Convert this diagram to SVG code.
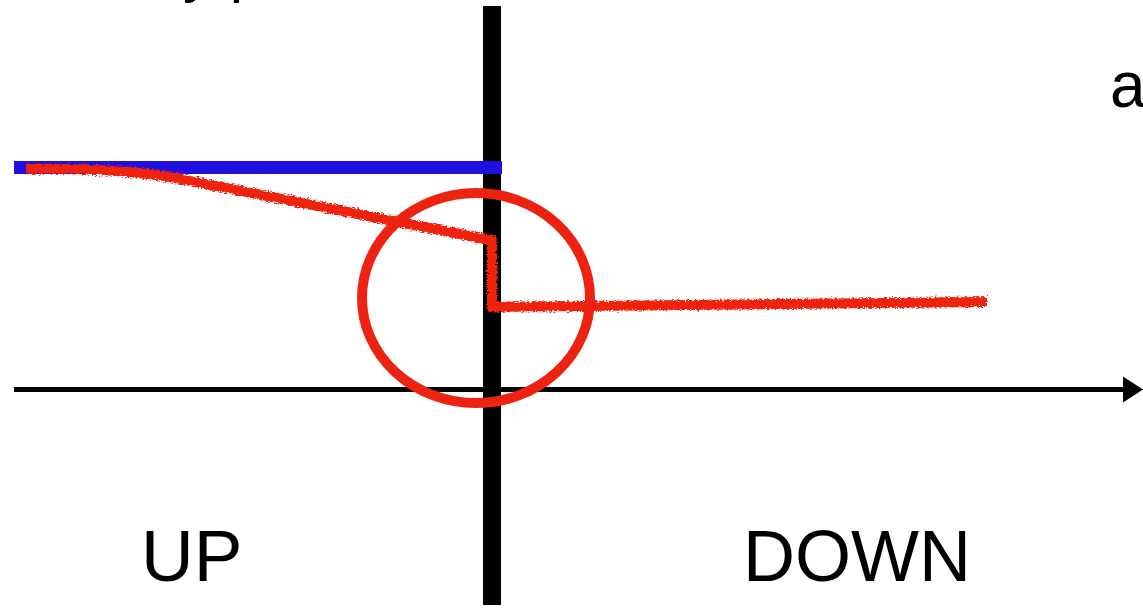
<svg xmlns="http://www.w3.org/2000/svg" width="1143" height="611" viewBox="0 0 1143 611">
  <style>
    .lbl { font-family: "Liberation Sans", Arial, sans-serif; fill: #000; }
    .rough { fill: none; stroke: #EE2211; stroke-width: 10; stroke-linejoin: round; stroke-linecap: butt; }
  </style>
  <defs>
    <filter id="chalk" x="-5%" y="-20%" width="110%" height="140%">
      <feTurbulence type="fractalNoise" baseFrequency="0.4 0.9" numOctaves="2" seed="3" result="n"/>
      <feDisplacementMap in="SourceGraphic" in2="n" scale="6" xChannelSelector="R" yChannelSelector="G"/>
    </filter>
    <marker id="arrow" viewBox="0 0 20 26" refX="0" refY="13" markerUnits="userSpaceOnUse" markerWidth="20" markerHeight="26" orient="auto">
      <path d="M0 0 L20 13 L0 26 Z" fill="#000"/>
    </marker>
  </defs>
  <rect width="1143" height="611" fill="#fff"/>

  <g id="title-fragment">
    <text class="lbl" x="183" y="-9" font-size="60">y p</text>
  </g>
  <g id="right-fragment">
    <text class="lbl" x="1110" y="107" font-size="64">a</text>
  </g>

  <g id="connectors">
    <line id="x-axis" x1="14" y1="389.5" x2="1123" y2="389.5" stroke="#000" stroke-width="5" marker-end="url(#arrow)"/>
    <rect id="interface-bar" x="483" y="6" width="18" height="599" fill="#000"/>
  </g>

  <g id="blue-line">
    <rect x="14" y="161" width="488" height="13" fill="#2010E0"/>
  </g>

  <g id="red-profile" filter="url(#chalk)">
    <path class="rough" d="M26 169 C70 168, 110 169, 165 176 L490 240 L492 240 L492 307 L987 302"/>
  </g>

  <g id="highlight-circle">
    <ellipse cx="476" cy="298" rx="114" ry="105" fill="none" stroke="#EE2211" stroke-width="10"/>
  </g>

  <g id="label-up">
    <text class="lbl" x="141" y="581" font-size="73">UP</text>
  </g>
  <g id="label-down">
    <text class="lbl" x="743" y="581" font-size="72">DOWN</text>
  </g>
</svg>
